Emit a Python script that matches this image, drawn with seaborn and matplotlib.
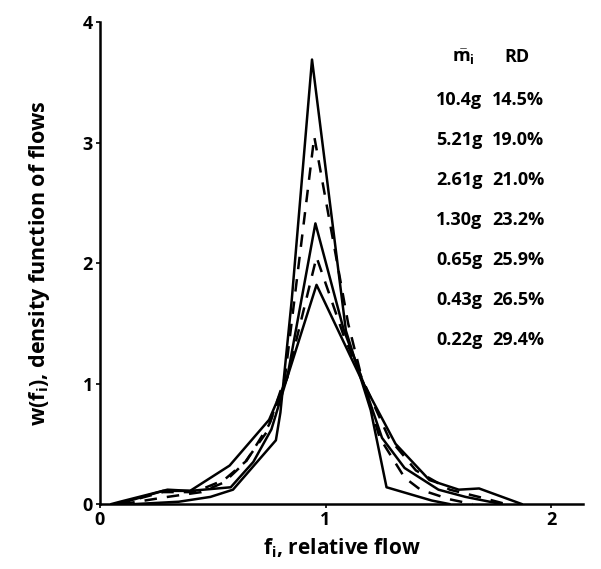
import numpy as np
import pandas as pd
import seaborn as sns
import matplotlib
matplotlib.use("Agg")
import matplotlib.pyplot as plt

# density of relative flow
f_a = [0.15, 0.35, 0.49, 0.59, 0.78, 0.80, 0.85, 0.94, 1.09, 1.20, 1.27, 1.47, 1.55]
w_a = [0.0, 0.02, 0.06, 0.12, 0.53, 0.76, 1.69, 3.69, 1.44, 0.78, 0.14, 0.03, 0.0]

f_b = [0.10, 0.30, 0.45, 0.55, 0.64, 0.74, 0.82, 0.95, 1.10, 1.16, 1.24, 1.35, 1.42, 1.55, 1.65]
w_b = [0.0, 0.06, 0.10, 0.18, 0.34, 0.60, 1.05, 3.05, 1.50, 1.05, 0.55, 0.22, 0.12, 0.04, 0.0]

f_c = [0.08, 0.28, 0.40, 0.58, 0.68, 0.76, 0.83, 0.955, 1.08, 1.15, 1.25, 1.35, 1.50, 1.62, 1.78]
w_c = [0.0, 0.11, 0.11, 0.14, 0.35, 0.62, 1.05, 2.33, 1.45, 1.10, 0.55, 0.30, 0.12, 0.06, 0.0]

f_d = [0.08, 0.28, 0.42, 0.55, 0.65, 0.75, 0.83, 0.96, 1.08, 1.16, 1.28, 1.40, 1.55, 1.70, 1.80]
w_d = [0.0, 0.10, 0.10, 0.20, 0.36, 0.66, 1.05, 2.05, 1.40, 1.05, 0.55, 0.28, 0.12, 0.05, 0.0]

f_e = [0.05, 0.09, 0.30, 0.40, 0.575, 0.75, 0.83, 0.96, 1.16, 1.31, 1.46, 1.59, 1.68, 1.87]
w_e = [0.0, 0.02, 0.12, 0.11, 0.32, 0.70, 1.05, 1.82, 1.03, 0.50, 0.20, 0.12, 0.13, 0.0]

mass_labels = ["10.4g", "5.21g", "2.61g", "1.30g", "0.65g", "0.43g", "0.22g"]
rd_labels = ["14.5%", "19.0%", "21.0%", "23.2%", "25.9%", "26.5%", "29.4%"]

curves = [(f_a, w_a, "-"), (f_b, w_b, (0, (5, 4))), (f_c, w_c, "-"),
          (f_d, w_d, (0, (5, 4))), (f_e, w_e, "-")]

sns.set_theme(style="ticks")
plt.rcParams['font.family'] = ['Open Sans', 'DejaVu Sans']
plt.rcParams['mathtext.fontset'] = 'custom'
plt.rcParams['mathtext.rm'] = 'Open Sans:bold'
plt.rcParams['mathtext.it'] = 'Open Sans:bold'
plt.rcParams['text.color'] = 'black'

fig = plt.figure(figsize=(6.01, 5.69), dpi=100)
ax = fig.add_axes([0.166, 0.114, 0.804, 0.847])

for fx, wy, ls in curves:
    df = pd.DataFrame({'f': fx, 'w': wy})
    sns.lineplot(x='f', y='w', data=df, ax=ax, color='black', linewidth=1.8,
                 linestyle=ls, sort=False, estimator=None)

ax.set_xlim(0, 2.14)
ax.set_ylim(0, 4)
ax.set_xticks([0, 1, 2])
ax.set_yticks([0, 1, 2, 3, 4])
sns.despine(ax=ax)
for sp in ['left', 'bottom']:
    ax.spines[sp].set_linewidth(1.8)
    ax.spines[sp].set_color('black')
ax.tick_params(length=3, width=1.2, pad=2, colors='black', labelsize=13)
for lab in ax.get_xticklabels() + ax.get_yticklabels():
    lab.set_fontweight('bold')

ax.set_xlabel(r"f$_\mathrm{i}$, relative flow", fontsize=15, fontweight='bold',
              labelpad=5, color='black')
ax.set_ylabel(r"w(f$_\mathrm{i}$), density function of flows", fontsize=15.5,
              fontweight='bold', labelpad=22, color='black')

# mass / relative deviation table
ax.text(0.752, 0.927, r"$\bar{\mathrm{m}}_\mathrm{i}$", transform=ax.transAxes,
        fontsize=13, ha='center', va='center')
ax.text(0.863, 0.927, "RD", transform=ax.transAxes, fontsize=13,
        fontweight='bold', ha='center', va='center')
for k, (m, r) in enumerate(zip(mass_labels, rd_labels)):
    yy = 0.838 - k * 0.083
    ax.text(0.744, yy, m, transform=ax.transAxes, fontsize=13,
            fontweight='bold', ha='center', va='center')
    ax.text(0.866, yy, r, transform=ax.transAxes, fontsize=13,
            fontweight='bold', ha='center', va='center')

fig.savefig("out.png", dpi=100)
